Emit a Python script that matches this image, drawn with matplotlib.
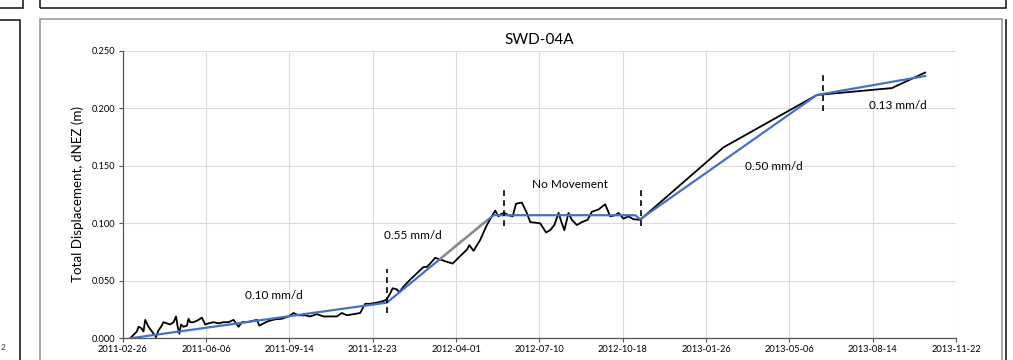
import numpy as np
import matplotlib
matplotlib.use("Agg")
import matplotlib.pyplot as plt
import matplotlib.dates as mdates
from matplotlib.patches import Rectangle
from matplotlib.lines import Line2D

plt.rcParams["font.family"] = ["Lato", "DejaVu Sans"]

# survey epoch for the day counts below
start = np.datetime64("2011-02-26")

# observed total displacement (days since start, metres)
obs_days = [9, 17, 19, 22, 25, 27, 31, 35, 40, 43, 46, 49, 53, 57, 61, 64, 66, 68,
            70, 73, 77, 79, 81, 85, 91, 95, 99, 103, 109, 115, 121, 127, 133, 139,
            143, 149, 155, 161, 164, 169, 175, 183, 191, 199, 205, 211, 219, 225,
            233, 241, 249, 257, 263, 269, 277, 285, 289, 291, 297, 305, 311, 315,
            317, 321, 324, 329, 332, 337, 345, 353, 361, 365, 369, 375, 383, 389,
            396, 405, 413, 416, 421, 429, 437, 443, 447, 451, 454, 458, 463, 468,
            472, 479, 485, 489, 495, 501, 508, 513, 518, 523, 527, 530, 535, 539,
            545, 551, 558, 563, 571, 579, 585, 591, 595, 601, 607, 613, 621, 721,
            833, 923, 963]
obs_disp = [0.000, 0.006, 0.010, 0.009, 0.006, 0.016, 0.010, 0.006, 0.001, 0.007,
            0.010, 0.014, 0.013, 0.012, 0.014, 0.019, 0.010, 0.004, 0.012, 0.010,
            0.011, 0.017, 0.014, 0.014, 0.016, 0.018, 0.012, 0.013, 0.014, 0.013,
            0.014, 0.014, 0.016, 0.010, 0.014, 0.014, 0.015, 0.016, 0.011, 0.013,
            0.015, 0.0165, 0.017, 0.019, 0.022, 0.020, 0.020, 0.019, 0.021, 0.019,
            0.019, 0.019, 0.022, 0.020, 0.021, 0.022, 0.0275, 0.030, 0.030, 0.031,
            0.032, 0.033, 0.034, 0.039, 0.0435, 0.0425, 0.040, 0.045, 0.051, 0.0565,
            0.062, 0.062, 0.065, 0.070, 0.068, 0.0665, 0.065, 0.0715, 0.077, 0.081,
            0.076, 0.0855, 0.0985, 0.106, 0.111, 0.106, 0.108, 0.109, 0.107, 0.106,
            0.117, 0.118, 0.109, 0.101, 0.1005, 0.100, 0.092, 0.094, 0.0985, 0.109,
            0.100, 0.094, 0.109, 0.103, 0.0985, 0.101, 0.103, 0.110, 0.112, 0.1165,
            0.106, 0.107, 0.109, 0.104, 0.106, 0.1035, 0.103, 0.166, 0.2115, 0.2175,
            0.231]

# piecewise linear velocity fit
trend_days = [9, 317, 445, 615, 621, 833, 963]
trend_disp = [0.000, 0.031, 0.107, 0.107, 0.1035, 0.2115, 0.228]
faded_days = [381, 437]

# breaks between velocity regimes
break_days = [317, 458, 622, 840]
break_lo = [0.022, 0.098, 0.098, 0.198]
break_hi = [0.060, 0.130, 0.130, 0.230]

# regime labels
label_text = ["0.10 mm/d", "0.55 mm/d", "No Movement", "0.50 mm/d", "0.13 mm/d"]
label_days = [182, 348, 537, 781, 930]
label_disp = [0.0375, 0.0895, 0.134, 0.149, 0.202]

tick_days = np.arange(0, 1001, 100)
y_ticks = [0.0, 0.05, 0.10, 0.15, 0.20, 0.25]


def to_date(d):
    return start + np.asarray(d).astype("timedelta64[D]")


fig = plt.figure(figsize=(10.13, 3.60), dpi=100)

# page frames around the chart
W, H = 1013, 360
def box(x0, y0, x1, y1, color, lw):
    fig.patches.append(Rectangle((x0 / W, 1 - y1 / H), (x1 - x0) / W, (y1 - y0) / H,
                                 transform=fig.transFigure, fill=False,
                                 edgecolor=color, linewidth=lw))
box(-5, -5, 22.5, 7.5, "#202020", 1.2)
box(39.5, -5, 1006, 7.5, "#202020", 1.2)
box(-5, 20.5, 19.5, 370, "#202020", 1.2)
box(40, 19.5, 1002, 370, "#9a9a9a", 1.2)
fig.lines.append(Line2D([1006 / W, 1006 / W], [0, 1 - 19.5 / H],
                        transform=fig.transFigure, color="#202020", lw=1.2))
fig.text(1 / W, 1 - 348 / H, "2", fontsize=6, va="center", ha="left", color="#333333")

ax = fig.add_axes([122.7 / W, 1 - 338.3 / H, (956 - 122.7) / W, (338.3 - 50.7) / H])

ax.plot(to_date(obs_days), obs_disp, color="black", lw=1.3, zorder=3)
ax.plot(to_date(trend_days), trend_disp, color="#4472C4", lw=1.6, zorder=4)
faded = np.linspace(faded_days[0], faded_days[1], 10)
ax.plot(to_date(faded), np.interp(faded, trend_days, trend_disp),
        color="#8f8f8f", lw=1.6, zorder=4)

for d, lo, hi in zip(break_days, break_lo, break_hi):
    ax.plot(to_date([d, d]), [lo, hi], color="black", lw=1.2,
            dashes=(3.5, 2.5), zorder=5)

for t, d, v in zip(label_text, label_days, label_disp):
    ax.text(to_date(d), v, t, fontsize=8.5, ha="center", va="center", zorder=6)

ax.set_xlim(to_date(0), to_date(1000))
ax.set_ylim(0, 0.25)
ax.set_xticks(to_date(tick_days))
ax.xaxis.set_major_formatter(mdates.DateFormatter("%Y-%m-%d"))
ax.set_yticks(y_ticks)
ax.yaxis.set_major_formatter(matplotlib.ticker.FormatStrFormatter("%.3f"))
ax.tick_params(labelsize=6.7, length=3, width=0.8, color="#555555", pad=2)

ax.grid(True, color="#dcdcdc", lw=0.8)
ax.set_axisbelow(True)
for side in ("top", "right"):
    ax.spines[side].set_visible(False)
for side in ("left", "bottom"):
    ax.spines[side].set_color("#555555")
    ax.spines[side].set_linewidth(0.9)

ax.set_ylabel("Total Displacement, dNEZ (m)", fontsize=9.6, labelpad=6)
ax.set_title("SWD-04A", fontsize=11, pad=5)

fig.savefig("out.png", dpi=100)
